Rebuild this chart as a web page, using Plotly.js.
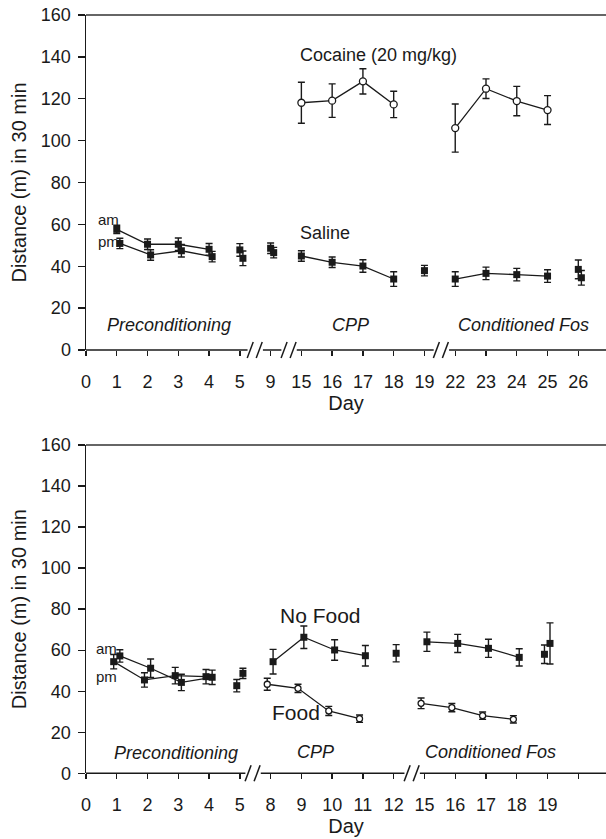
<!DOCTYPE html>
<html><head><meta charset="utf-8">
<script src="https://cdn.plot.ly/plotly-3.0.1.min.js"></script>
<style>html,body{margin:0;padding:0;background:#fff;} #chart{width:606px;height:839px;}</style>
</head><body><div id="chart"></div>
<script>
// ---------- DATA ----------
// Top panel (cocaine vs saline)
const topTickLabels = ['0','1','2','3','4','5','9','15','16','17','18','19','22','23','24','25','26'];
const salAmDays = [1,2,3,4,5,9,15,16,17,18,19,22,23,24,25,26];
const salAmVals = [57.6,50.5,50.5,48.1,47.8,48.6,44.9,41.9,40.1,33.9,37.9,33.9,36.6,36.0,35.3,38.5];
const salAmErr  = [2.0,2.5,3.0,2.8,3.0,2.5,2.5,2.5,3.0,3.5,2.5,3.5,3.0,3.0,3.0,4.5];
const salPmDays = [1,2,3,4,5,9,26];
const salPmVals = [50.9,45.4,47.4,44.6,43.8,46.5,34.5];
const salPmErr  = [2.5,2.5,3.0,2.5,3.5,2.5,3.5];
const cocDays = [15,16,17,18,22,23,24,25];
const cocVals = [118.1,119.1,128.3,117.3,106.0,124.8,118.9,114.6];
const cocErr  = [9.8,8.0,6.0,6.3,11.5,4.7,7.0,6.9];

// Bottom panel (food vs no food)
const botTickLabels = ['0','1','2','3','4','5','8','9','10','11','12','15','16','17','18','19',''];
const botAmDays = [1,2,3,4,5];
const botAmVals = [57.2,51.2,44.3,46.8,48.7];
const botAmErr  = [3.0,4.5,4.0,3.5,2.5];
const botPmDays = [1,2,3,4,5];
const botPmVals = [54.4,45.5,47.6,47.1,42.7];
const botPmErr  = [3.5,3.5,4.0,3.5,3.0];
const noFoodDays = [8,9,10,11,12,15,16,17,18,19];
const noFoodVals = [54.4,66.3,60.1,57.3,58.5,64.1,63.3,60.9,56.5,63.3];
const noFoodErr  = [6.0,5.5,5.0,5.0,4.2,4.7,4.4,4.4,4.2,10.0];
const noFoodExtraDays = [19];
const noFoodExtraVals = [58.0];
const noFoodExtraErr  = [4.5];
const foodDays = [8,9,10,11,15,16,17,18];
const foodVals = [43.4,41.4,30.4,26.6,34.1,32.0,28.1,26.3];
const foodErr  = [2.9,2.0,2.2,1.8,2.6,2.0,1.8,1.8];

// ---------- STYLE / HELPERS ----------
const INK = '#1a1a1a';
const FONT = 'Liberation Sans, Arial, sans-serif';
const XMAX = 16.9;

const sq = {symbol:'square', size:7, color:INK, line:{width:0}};
const circ = {symbol:'circle', size:7, color:'#fff', line:{color:INK, width:1.3}};
const circSm = {symbol:'circle', size:6, color:'#fff', line:{color:INK, width:1.3}};

function pos(labels, days, off){ return days.map(d => labels.indexOf(String(d)) + off); }

const traces = [];
function addSeries(labels, days, vals, errs, off, marker, xa, ya, segments){
  const xs = pos(labels, days, off);
  segments.forEach(([a,b]) => {
    const sx = [], sy = [];
    days.forEach((d,i) => { if (d >= a && d <= b){ sx.push(xs[i]); sy.push(vals[i]); } });
    traces.push({x:sx, y:sy, xaxis:xa, yaxis:ya, mode:'lines', line:{color:INK, width:1.3},
                 hoverinfo:'skip', showlegend:false});
  });
  traces.push({x:xs, y:vals, xaxis:xa, yaxis:ya, mode:'markers', marker:marker, showlegend:false,
               error_y:{type:'data', array:errs, visible:true, color:INK, thickness:1.4, width:3.5}});
}

// Top
addSeries(topTickLabels, salAmDays, salAmVals, salAmErr, 0, sq, 'x', 'y', [[1,4],[15,18],[22,25]]);
addSeries(topTickLabels, salPmDays, salPmVals, salPmErr, 0.1, sq, 'x', 'y', [[1,4]]);
addSeries(topTickLabels, cocDays, cocVals, cocErr, 0, circ, 'x', 'y', [[15,18],[22,25]]);
// Bottom
addSeries(botTickLabels, botAmDays, botAmVals, botAmErr, 0.1, sq, 'x2', 'y2', [[1,4]]);
addSeries(botTickLabels, botPmDays, botPmVals, botPmErr, -0.1, sq, 'x2', 'y2', [[1,4]]);
addSeries(botTickLabels, noFoodDays, noFoodVals, noFoodErr, 0.08, sq, 'x2', 'y2', [[8,11],[15,18]]);
addSeries(botTickLabels, noFoodExtraDays, noFoodExtraVals, noFoodExtraErr, -0.1, sq, 'x2', 'y2', []);
addSeries(botTickLabels, foodDays, foodVals, foodErr, -0.11, circSm, 'x2', 'y2', [[8,11],[15,18]]);

// Axis line with breaks, slashes, and top frame line (y in axis-domain units so they are not clipped vertically)
const shapes = [];
function axisWithBreaks(xref, ydom, breaks){
  const gap = 0.25;
  let start = 0;
  breaks.forEach(b => {
    shapes.push({type:'line', xref:xref, yref:ydom, x0:start, x1:b-gap, y0:0, y1:0, line:{color:INK, width:1.5}});
    start = b + gap;
    [[-8,-2],[1,7]].forEach(([a,c]) => shapes.push({type:'line', xref:xref, yref:ydom,
      xsizemode:'pixel', xanchor:b, x0:a, x1:c, ysizemode:'pixel', yanchor:0, y0:-8, y1:8,
      line:{color:INK, width:1.5}}));
  });
  shapes.push({type:'line', xref:xref, yref:ydom, x0:start, x1:XMAX, y0:0, y1:0, line:{color:INK, width:1.5}});
  shapes.push({type:'line', xref:xref, yref:ydom, x0:0, x1:XMAX, y0:1, y1:1, line:{color:'#333', width:1.5}});
}
axisWithBreaks('x', 'y domain', [5.5, 6.6, 11.55]);
axisWithBreaks('x2', 'y2 domain', [5.43, 10.6]);

function ann(xref, yref, x, y, text, size, italic){
  return {xref:xref, yref:yref, x:x, y:y, text:text, showarrow:false, xanchor:'left', yanchor:'middle',
          font:{family:FONT, size:size, color:INK, style: italic ? 'italic' : 'normal'}};
}
const annotations = [
  ann('x','y', 6.89, 140.9, 'Cocaine (20 mg/kg)', 18),
  ann('x','y', 6.89, 55.9, 'Saline', 18),
  ann('x','y', 0.33, 62.1, 'am', 15),
  ann('x','y', 0.33, 51.7, 'pm', 15),
  ann('x','y', 0.62, 11.9, 'Preconditioning', 18, true),
  ann('x','y', 7.93, 11.9, 'CPP', 18, true),
  ann('x','y', 12.02, 11.9, 'Conditioned Fos', 18, true),
  ann('x2','y2', 0.27, 60.9, 'am', 15),
  ann('x2','y2', 0.27, 47.4, 'pm', 15),
  ann('x2','y2', 6.24, 77.1, 'No Food', 21),
  ann('x2','y2', 5.98, 29.4, 'Food', 21),
  ann('x2','y2', 0.84, 10.0, 'Preconditioning', 18, true),
  ann('x2','y2', 6.79, 10.4, 'CPP', 18, true),
  ann('x2','y2', 10.96, 10.4, 'Conditioned Fos', 18, true)
];

function xAxis(labels, anchor){
  return {anchor:anchor, domain:[0,1], range:[0, XMAX], showline:false, showgrid:false, zeroline:false,
    tickmode:'array', tickvals:labels.map((_,i)=>i), ticktext:labels,
    ticks:'outside', ticklen:5, tickwidth:1.3, tickcolor:INK, ticklabelstandoff:10,
    tickfont:{family:FONT, size:18, color:INK},
    title:{text:'Day', font:{family:FONT, size:20, color:INK}, standoff:4}};
}
function yAxis(domain, anchor){
  return {anchor:anchor, domain:domain, range:[0,160], dtick:20, tick0:0, showline:true, linecolor:INK, linewidth:1.5,
    showgrid:false, zeroline:false, ticks:'outside', ticklen:7, tickwidth:1.3, tickcolor:INK,
    ticklabelstandoff:3, tickfont:{family:FONT, size:18, color:INK},
    title:{text:'Distance (m) in 30 min', font:{family:FONT, size:20, color:INK}, standoff:9}};
}

const layout = {
  width:606, height:839, margin:{l:86, r:0, t:0, b:0},
  paper_bgcolor:'#fff', plot_bgcolor:'#fff', showlegend:false,
  xaxis: xAxis(topTickLabels, 'y'),
  yaxis: yAxis([0.58284, 0.98212], 'x'),
  xaxis2: xAxis(botTickLabels, 'y2'),
  yaxis2: yAxis([0.07831, 0.46961], 'x2'),
  shapes: shapes,
  annotations: annotations
};

Plotly.newPlot('chart', traces, layout, {displayModeBar:false, staticPlot:true});
</script>
</body></html>
